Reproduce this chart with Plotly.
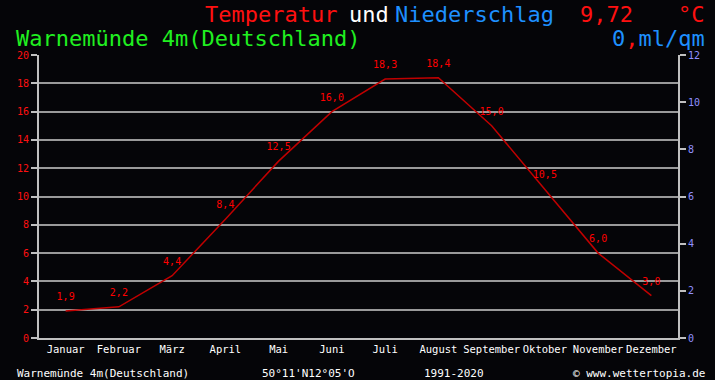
import plotly.graph_objects as go

months = ["Januar", "Februar", "März", "April", "Mai", "Juni", "Juli",
          "August", "September", "Oktober", "November", "Dezember"]
temperature = [1.9, 2.2, 4.4, 8.4, 12.5, 16.0, 18.3, 18.4, 15.0, 10.5, 6.0, 3.0]
precipitation = [0, 0, 0, 0, 0, 0, 0, 0, 0, 0, 0, 0]
temp_ticks = [0, 2, 4, 6, 8, 10, 12, 14, 16, 18, 20]
prec_ticks = [0, 2, 4, 6, 8, 10, 12]

W, H = 715, 380
L, R, T, B = 39, 678, 55, 338
MONO = "DejaVu Sans Mono"


def px(x):
    return (x - L) / (R - L)


def py(y):
    return (B - y) / (B - T)


labels = [f"{v:.1f}".replace(".", ",") for v in temperature]

fig = go.Figure()
fig.add_trace(go.Bar(x=months, y=precipitation, yaxis="y2",
                     marker=dict(color="#1e90ff", line=dict(width=0)),
                     showlegend=False, hoverinfo="skip"))
fig.add_trace(go.Scatter(
    x=months, y=temperature, mode="lines+markers+text", text=labels,
    textposition="top center",
    textfont=dict(family=MONO, size=10, color="#ff0000"),
    marker=dict(size=12, color="rgba(0,0,0,0)"),
    line=dict(color="#c00000", width=1.5), showlegend=False))

ann = []


def add(text, x, y, color, size, xanchor="left"):
    ann.append(dict(text=text, x=px(x), y=py(y), xref="paper", yref="paper",
                    xanchor=xanchor, yanchor="middle", showarrow=False,
                    font=dict(family=MONO, size=size, color=color)))


add("Temperatur", 203, 14, "#ff1010", 22)
add("und", 347, 14, "#ffffff", 22)
add("Niederschlag", 393, 14, "#1e90ff", 22)
add("9,72", 578, 14, "#ff1010", 22)
add("°C", 707, 14, "#ff1010", 22, "right")
add("Warnemünde 4m(Deutschland)", 14, 38, "#20f020", 22)
add("0<span style='color:#ff1010'>,</span>ml/qm", 707, 38, "#1e90ff", 22, "right")
add("Warnemünde 4m(Deutschland)", 15, 373, "#ffffff", 11)
add("50°11'N12°05'O", 260, 373, "#ffffff", 11)
add("1991-2020", 422, 373, "#ffffff", 11)
add("© www.wettertopia.de", 707, 373, "#ffffff", 11, "right")

fig.update_layout(
    width=W, height=H,
    margin=dict(l=L, r=W - R, t=T, b=H - B, pad=0),
    paper_bgcolor="#050508", plot_bgcolor="#050508",
    annotations=ann,
    xaxis=dict(type="category", range=[-0.5, 11.5], showgrid=False,
               tickangle=0,
               tickfont=dict(family=MONO, size=10.5, color="#ffffff"),
               ticks="", showline=True, linecolor="#c0c0c0", linewidth=2,
               zeroline=False, fixedrange=True),
    yaxis=dict(range=[0, 20], tickvals=temp_ticks, showgrid=True,
               gridcolor="#9a9a9a", gridwidth=1.5,
               tickfont=dict(family=MONO, size=10, color="#ff1010"),
               ticks="outside", ticklen=6, tickcolor="#c0c0c0", tickwidth=2,
               showline=True, linecolor="#c0c0c0", linewidth=2,
               zeroline=False),
    yaxis2=dict(range=[0, 12], tickvals=prec_ticks, overlaying="y", side="right",
                showgrid=False, zeroline=False,
                tickfont=dict(family=MONO, size=10, color="#9090ff"),
                ticks="outside", ticklen=6, tickcolor="#c0c0c0", tickwidth=2,
                showline=True, linecolor="#c0c0c0", linewidth=2),
)

fig.write_html(
    "out.html",
    config={"displayModeBar": False},
    post_script="document.body.style.margin='0';document.body.style.overflow='hidden';",
)
